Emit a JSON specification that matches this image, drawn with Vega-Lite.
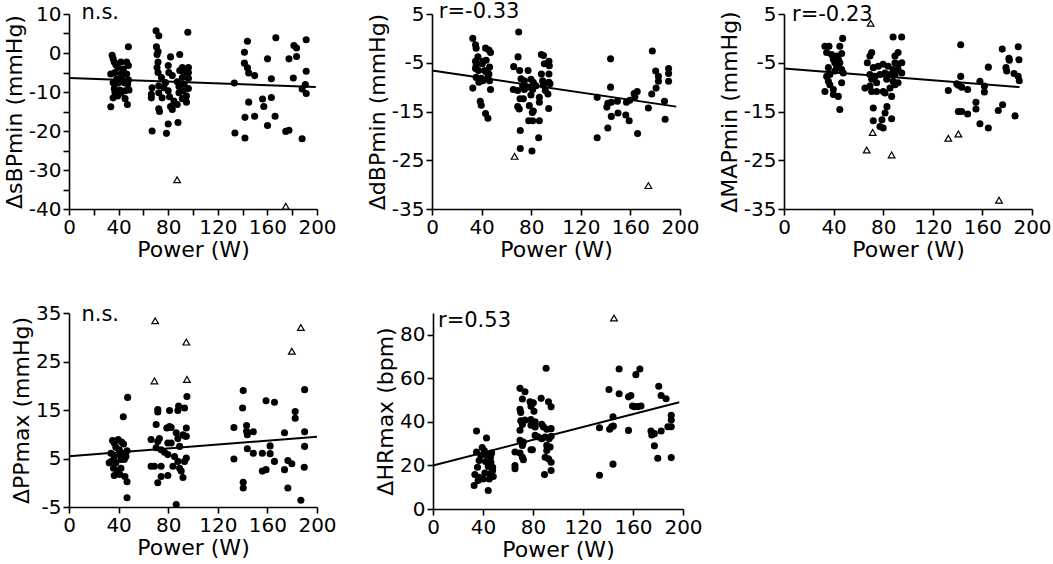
{
  "$schema": "https://vega.github.io/schema/vega-lite/v6.json",
  "padding": {"left": 3, "top": 0, "right": 0, "bottom": 0},
  "background": "white",
  "config": {
    "view": {"stroke": null},
    "font": "DejaVu Sans",
    "text": {"font": "DejaVu Sans", "fontSize": 21, "color": "black"},
    "axis": {
      "grid": false,
      "domainColor": "black",
      "domainWidth": 1.6,
      "tickColor": "black",
      "tickWidth": 1.6,
      "tickSize": 6,
      "labelFont": "DejaVu Sans",
      "labelFontSize": 20,
      "labelColor": "black",
      "labelPadding": 2,
      "labelOverlap": false,
      "labelFlush": false,
      "titleFont": "DejaVu Sans",
      "titleFontSize": 22,
      "titleFontWeight": "normal",
      "titleColor": "black",
      "titlePadding": 2
    }
  },
  "datasets": {
    "sbp": [
      {"w": 47.9, "v": 1.6, "o": 0}, {"w": 34.8, "v": -0.6, "o": 0}, {"w": 35.6, "v": -1.5, "o": 0}, {"w": 36.5, "v": -2.3, "o": 0},
      {"w": 37.8, "v": -3, "o": 0}, {"w": 41.9, "v": -2.3, "o": 0}, {"w": 46.5, "v": -2.3, "o": 0}, {"w": 47.9, "v": -3.2, "o": 0},
      {"w": 39.5, "v": -3.7, "o": 0}, {"w": 43.8, "v": -4.1, "o": 0}, {"w": 33.7, "v": -5.4, "o": 0}, {"w": 37, "v": -5, "o": 0},
      {"w": 41.9, "v": -5.4, "o": 0}, {"w": 46.5, "v": -5.4, "o": 0}, {"w": 38.4, "v": -6.7, "o": 0}, {"w": 42.4, "v": -6.5, "o": 0},
      {"w": 47.9, "v": -6.9, "o": 0}, {"w": 35.6, "v": -7.6, "o": 0}, {"w": 39.5, "v": -7.7, "o": 0}, {"w": 44.6, "v": -7.6, "o": 0},
      {"w": 47.3, "v": -8, "o": 0}, {"w": 36.5, "v": -9.1, "o": 0}, {"w": 41.1, "v": -9.5, "o": 0}, {"w": 45.2, "v": -9.7, "o": 0},
      {"w": 48.4, "v": -9.5, "o": 0}, {"w": 37, "v": -10, "o": 0}, {"w": 41.9, "v": -10.3, "o": 0}, {"w": 35.6, "v": -11.5, "o": 0},
      {"w": 45.2, "v": -11.7, "o": 0}, {"w": 33.7, "v": -13.8, "o": 0}, {"w": 47.1, "v": -13.2, "o": 0}, {"w": 39.2, "v": -11, "o": 0},
      {"w": 70.2, "v": 5.7, "o": 0}, {"w": 72.4, "v": 4.4, "o": 0}, {"w": 95.8, "v": 5.3, "o": 0}, {"w": 70.5, "v": 1.6, "o": 0},
      {"w": 71.8, "v": 0.4, "o": 0}, {"w": 71, "v": -0.4, "o": 0}, {"w": 81.9, "v": -1, "o": 0}, {"w": 89.3, "v": -0.4, "o": 0},
      {"w": 71.8, "v": -2.3, "o": 0}, {"w": 71, "v": -3.7, "o": 0}, {"w": 80, "v": -3.2, "o": 0}, {"w": 91.4, "v": -3.7, "o": 0},
      {"w": 96.3, "v": -3.7, "o": 0}, {"w": 71.8, "v": -5, "o": 0}, {"w": 80.5, "v": -5, "o": 0}, {"w": 83.3, "v": -5.8, "o": 0},
      {"w": 89.3, "v": -4.5, "o": 0}, {"w": 92.8, "v": -5, "o": 0}, {"w": 96.3, "v": -5, "o": 0}, {"w": 74.6, "v": -6.3, "o": 0},
      {"w": 77.8, "v": -7.6, "o": 0}, {"w": 87.3, "v": -7.4, "o": 0}, {"w": 91.4, "v": -6.3, "o": 0}, {"w": 96.3, "v": -6.5, "o": 0},
      {"w": 67, "v": -8.9, "o": 0}, {"w": 72.4, "v": -8.4, "o": 0}, {"w": 76.5, "v": -8.9, "o": 0}, {"w": 80, "v": -9.7, "o": 0},
      {"w": 88.7, "v": -8.6, "o": 0}, {"w": 92.8, "v": -8, "o": 0}, {"w": 92, "v": -9.7, "o": 0}, {"w": 96.3, "v": -9.1, "o": 0},
      {"w": 66.4, "v": -10.6, "o": 0}, {"w": 72.4, "v": -10.2, "o": 0}, {"w": 81.1, "v": -11.2, "o": 0}, {"w": 88.7, "v": -10.2, "o": 0},
      {"w": 94.7, "v": -11, "o": 0}, {"w": 75.1, "v": -11.5, "o": 0}, {"w": 66.4, "v": -11.5, "o": 0}, {"w": 91.4, "v": -11.7, "o": 0},
      {"w": 94.7, "v": -12.6, "o": 0}, {"w": 84.6, "v": -12.3, "o": 0}, {"w": 81.9, "v": -13.7, "o": 0}, {"w": 72.4, "v": -14.3, "o": 0},
      {"w": 73, "v": -15, "o": 0}, {"w": 83.3, "v": -14.5, "o": 0}, {"w": 87.3, "v": -13.2, "o": 0}, {"w": 67, "v": -20, "o": 0},
      {"w": 80, "v": -18.2, "o": 0}, {"w": 87.9, "v": -17.8, "o": 0}, {"w": 78.6, "v": -20.6, "o": 0},
      {"w": 133.3, "v": -7.7, "o": 0}, {"w": 133.8, "v": -20.5, "o": 0}, {"w": 143.9, "v": 3, "o": 0}, {"w": 141.5, "v": 0.2, "o": 0},
      {"w": 141.5, "v": -2.6, "o": 0}, {"w": 143.9, "v": -3.8, "o": 0}, {"w": 144.9, "v": -5.1, "o": 0}, {"w": 149.7, "v": -5.8, "o": 0},
      {"w": 144.9, "v": -12.6, "o": 0}, {"w": 141.9, "v": -16.5, "o": 0}, {"w": 141.9, "v": -21.8, "o": 0}, {"w": 149.7, "v": -16.2, "o": 0},
      {"w": 156.1, "v": -11.8, "o": 0}, {"w": 157.1, "v": -13.7, "o": 0}, {"w": 160.1, "v": -1.5, "o": 0}, {"w": 160.1, "v": -18.6, "o": 0},
      {"w": 163.2, "v": -6.6, "o": 0}, {"w": 163.2, "v": -11.4, "o": 0}, {"w": 166.8, "v": 3.9, "o": 0}, {"w": 166.2, "v": -16.2, "o": 0},
      {"w": 174.8, "v": -20.1, "o": 0}, {"w": 177.4, "v": -19.8, "o": 0}, {"w": 177.4, "v": -1.5, "o": 0}, {"w": 180.9, "v": -6.4, "o": 0},
      {"w": 181.4, "v": 1.9, "o": 0}, {"w": 183.5, "v": 1.3, "o": 0}, {"w": 183.5, "v": -0.9, "o": 0}, {"w": 188, "v": -9.2, "o": 0},
      {"w": 188, "v": -22, "o": 0}, {"w": 191.3, "v": 3.4, "o": 0}, {"w": 191.3, "v": -4.7, "o": 0}, {"w": 190.6, "v": -8.1, "o": 0},
      {"w": 191.3, "v": -10.4, "o": 0},
      {"w": 87.2, "v": -32.5, "o": 1}, {"w": 174.8, "v": -39.3, "o": 1}
    ],
    "dbp": [
      {"w": 32.9, "v": 0, "o": 0}, {"w": 35.1, "v": -1.3, "o": 0}, {"w": 35.6, "v": -2, "o": 0}, {"w": 43.2, "v": -2, "o": 0},
      {"w": 45.9, "v": -2.4, "o": 0}, {"w": 47.2, "v": -2.9, "o": 0}, {"w": 37, "v": -3.8, "o": 0}, {"w": 35.1, "v": -4.7, "o": 0},
      {"w": 41, "v": -4.7, "o": 0}, {"w": 43.7, "v": -4.5, "o": 0}, {"w": 35.6, "v": -5.6, "o": 0}, {"w": 40.5, "v": -5.2, "o": 0},
      {"w": 46.4, "v": -5.9, "o": 0}, {"w": 35.1, "v": -6.2, "o": 0}, {"w": 37.5, "v": -6.6, "o": 0}, {"w": 42.4, "v": -6.6, "o": 0},
      {"w": 43.7, "v": -6.9, "o": 0}, {"w": 45.9, "v": -7.3, "o": 0}, {"w": 35.6, "v": -8, "o": 0}, {"w": 39.7, "v": -8.2, "o": 0},
      {"w": 45.1, "v": -8, "o": 0}, {"w": 37.8, "v": -9, "o": 0}, {"w": 41, "v": -8.7, "o": 0}, {"w": 46.4, "v": -8.7, "o": 0},
      {"w": 32.9, "v": -10.2, "o": 0}, {"w": 47.2, "v": -10.5, "o": 0}, {"w": 38.9, "v": -12.9, "o": 0}, {"w": 39.7, "v": -13.7, "o": 0},
      {"w": 43.2, "v": -15.4, "o": 0}, {"w": 45.1, "v": -16.4, "o": 0},
      {"w": 69.9, "v": 1.3, "o": 0}, {"w": 69.4, "v": -3.8, "o": 0}, {"w": 65.9, "v": -5.8, "o": 0}, {"w": 70.7, "v": -6.6, "o": 0},
      {"w": 77.5, "v": -6.6, "o": 0}, {"w": 88.2, "v": -3.3, "o": 0}, {"w": 89.9, "v": -3.5, "o": 0}, {"w": 94.3, "v": -4.7, "o": 0},
      {"w": 90.6, "v": -5.2, "o": 0}, {"w": 94.6, "v": -5.6, "o": 0}, {"w": 88.2, "v": -7.3, "o": 0}, {"w": 94.3, "v": -7.3, "o": 0},
      {"w": 71.8, "v": -8.3, "o": 0}, {"w": 74.5, "v": -8.7, "o": 0}, {"w": 79.8, "v": -8.4, "o": 0}, {"w": 81.7, "v": -9, "o": 0},
      {"w": 89.2, "v": -8.7, "o": 0}, {"w": 94.3, "v": -9, "o": 0}, {"w": 73.1, "v": -9.7, "o": 0}, {"w": 77.2, "v": -10, "o": 0},
      {"w": 83.9, "v": -9.7, "o": 0}, {"w": 89.8, "v": -9.6, "o": 0}, {"w": 95.2, "v": -9.3, "o": 0}, {"w": 65.6, "v": -10.5, "o": 0},
      {"w": 69.1, "v": -10.7, "o": 0}, {"w": 74.5, "v": -10.5, "o": 0}, {"w": 81.2, "v": -10.5, "o": 0}, {"w": 91.4, "v": -10.7, "o": 0},
      {"w": 93.5, "v": -11.4, "o": 0}, {"w": 71, "v": -12.4, "o": 0}, {"w": 73.7, "v": -12.4, "o": 0}, {"w": 79.8, "v": -11.6, "o": 0},
      {"w": 86.6, "v": -12.1, "o": 0}, {"w": 69.1, "v": -14, "o": 0}, {"w": 70.4, "v": -14.5, "o": 0}, {"w": 78.5, "v": -13.8, "o": 0},
      {"w": 81.7, "v": -14.9, "o": 0}, {"w": 80.9, "v": -15.2, "o": 0}, {"w": 86.6, "v": -13.1, "o": 0}, {"w": 94.1, "v": -14.4, "o": 0},
      {"w": 78, "v": -16.9, "o": 0}, {"w": 81.2, "v": -16.9, "o": 0}, {"w": 86.6, "v": -16.9, "o": 0}, {"w": 71.2, "v": -18.9, "o": 0},
      {"w": 86, "v": -20.4, "o": 0}, {"w": 71.2, "v": -22.6, "o": 0}, {"w": 80.6, "v": -23.1, "o": 0},
      {"w": 133.2, "v": -12.1, "o": 0}, {"w": 133.2, "v": -20.4, "o": 0}, {"w": 144, "v": -4.2, "o": 0}, {"w": 144, "v": -10, "o": 0},
      {"w": 141.8, "v": -13.3, "o": 0}, {"w": 141, "v": -14.1, "o": 0}, {"w": 144.6, "v": -16, "o": 0}, {"w": 141.8, "v": -18.4, "o": 0},
      {"w": 144.6, "v": -13.1, "o": 0}, {"w": 149.5, "v": -12.9, "o": 0}, {"w": 150, "v": -15.3, "o": 0}, {"w": 156.8, "v": -13.1, "o": 0},
      {"w": 156.3, "v": -15.7, "o": 0}, {"w": 159, "v": -16.9, "o": 0}, {"w": 159.5, "v": -12.7, "o": 0}, {"w": 163, "v": -11.3, "o": 0},
      {"w": 165.5, "v": -10.9, "o": 0}, {"w": 163.6, "v": -12, "o": 0}, {"w": 165.8, "v": -19.5, "o": 0}, {"w": 174.5, "v": -14.3, "o": 0},
      {"w": 177.2, "v": -11.4, "o": 0}, {"w": 177.7, "v": -2.6, "o": 0}, {"w": 180.7, "v": -10.2, "o": 0}, {"w": 180.4, "v": -6.7, "o": 0},
      {"w": 182.6, "v": -7.8, "o": 0}, {"w": 182.6, "v": -8.8, "o": 0}, {"w": 187.5, "v": -12.9, "o": 0}, {"w": 188, "v": -16.6, "o": 0},
      {"w": 190.8, "v": -6.2, "o": 0}, {"w": 190.8, "v": -7.2, "o": 0}, {"w": 190.8, "v": -8.8, "o": 0},
      {"w": 66.6, "v": -24.2, "o": 1}, {"w": 174.5, "v": -30.2, "o": 1}
    ],
    "map": [
      {"w": 33, "v": -1.6, "o": 0}, {"w": 36.3, "v": -1.6, "o": 0}, {"w": 47.3, "v": 0, "o": 0}, {"w": 45, "v": -1.6, "o": 0},
      {"w": 34.4, "v": -2.9, "o": 0}, {"w": 38.4, "v": -3.3, "o": 0}, {"w": 42.5, "v": -3.6, "o": 0}, {"w": 46.5, "v": -3.1, "o": 0},
      {"w": 39.8, "v": -4.3, "o": 0}, {"w": 43.8, "v": -4.3, "o": 0}, {"w": 41, "v": -5, "o": 0}, {"w": 45, "v": -5, "o": 0},
      {"w": 35.8, "v": -6, "o": 0}, {"w": 42.5, "v": -6, "o": 0}, {"w": 46.5, "v": -6.4, "o": 0}, {"w": 37, "v": -7.4, "o": 0},
      {"w": 47.8, "v": -7.1, "o": 0}, {"w": 35.8, "v": -8.8, "o": 0}, {"w": 46.5, "v": -9.1, "o": 0}, {"w": 37, "v": -9.5, "o": 0},
      {"w": 33, "v": -10.9, "o": 0}, {"w": 39.8, "v": -10.5, "o": 0}, {"w": 39.8, "v": -11.5, "o": 0}, {"w": 43.8, "v": -11.9, "o": 0},
      {"w": 45, "v": -14.6, "o": 0}, {"w": 43.8, "v": -5.7, "o": 0}, {"w": 41, "v": -6.7, "o": 0}, {"w": 34.4, "v": -7.8, "o": 0},
      {"w": 70.7, "v": -2.9, "o": 0}, {"w": 69.3, "v": -3.6, "o": 0}, {"w": 88, "v": 0.3, "o": 0}, {"w": 94.9, "v": 0.3, "o": 0},
      {"w": 67.2, "v": -5, "o": 0}, {"w": 72, "v": -6, "o": 0}, {"w": 76, "v": -5.7, "o": 0}, {"w": 80, "v": -5.3, "o": 0},
      {"w": 84, "v": -5.7, "o": 0}, {"w": 89.5, "v": -3.6, "o": 0}, {"w": 89.5, "v": -5, "o": 0}, {"w": 92, "v": -5.3, "o": 0},
      {"w": 95, "v": -5, "o": 0}, {"w": 88, "v": -6.4, "o": 0}, {"w": 92, "v": -6.4, "o": 0}, {"w": 69.3, "v": -7.4, "o": 0},
      {"w": 73.4, "v": -7.8, "o": 0}, {"w": 77.4, "v": -7.4, "o": 0}, {"w": 81.5, "v": -7.1, "o": 0}, {"w": 85.5, "v": -7.4, "o": 0},
      {"w": 89.5, "v": -7.4, "o": 0}, {"w": 95, "v": -7.1, "o": 0}, {"w": 70.7, "v": -8.4, "o": 0}, {"w": 74.7, "v": -9.1, "o": 0},
      {"w": 88, "v": -8.8, "o": 0}, {"w": 92, "v": -9.1, "o": 0}, {"w": 65.3, "v": -10.2, "o": 0}, {"w": 69.3, "v": -9.8, "o": 0},
      {"w": 70.7, "v": -10.9, "o": 0}, {"w": 74.7, "v": -10.9, "o": 0}, {"w": 80, "v": -10.9, "o": 0}, {"w": 85.5, "v": -10.2, "o": 0},
      {"w": 89.5, "v": -9.5, "o": 0}, {"w": 81.5, "v": -11.2, "o": 0}, {"w": 86.8, "v": -11.9, "o": 0}, {"w": 72, "v": -14.3, "o": 0},
      {"w": 83, "v": -14, "o": 0}, {"w": 81.5, "v": -15.3, "o": 0}, {"w": 86.8, "v": -16.5, "o": 0}, {"w": 72, "v": -16.9, "o": 0},
      {"w": 79, "v": -16.7, "o": 0}, {"w": 77.4, "v": -18.1, "o": 0}, {"w": 80, "v": -18.4, "o": 0}, {"w": 92, "v": -2.9, "o": 0},
      {"w": 82.8, "v": -8.4, "o": 0},
      {"w": 132.5, "v": -10.7, "o": 0}, {"w": 142.5, "v": -1.3, "o": 0}, {"w": 142.5, "v": -7.8, "o": 0}, {"w": 139.3, "v": -9.3, "o": 0},
      {"w": 140.6, "v": -9.6, "o": 0}, {"w": 143.3, "v": -10, "o": 0}, {"w": 148.1, "v": -10.5, "o": 0}, {"w": 140.6, "v": -15, "o": 0},
      {"w": 143.3, "v": -15, "o": 0}, {"w": 148.1, "v": -15.5, "o": 0}, {"w": 154.8, "v": -13.1, "o": 0}, {"w": 154.8, "v": -14.5, "o": 0},
      {"w": 158, "v": -8.8, "o": 0}, {"w": 158, "v": -17.5, "o": 0}, {"w": 161.6, "v": -9.8, "o": 0}, {"w": 161.6, "v": -11, "o": 0},
      {"w": 164.8, "v": -5.9, "o": 0}, {"w": 164.8, "v": -18.4, "o": 0}, {"w": 172.8, "v": -14.8, "o": 0}, {"w": 176.3, "v": -13.6, "o": 0},
      {"w": 176, "v": -2.2, "o": 0}, {"w": 181.4, "v": -4.1, "o": 0}, {"w": 181.7, "v": -4.5, "o": 0}, {"w": 179, "v": -6, "o": 0},
      {"w": 179.6, "v": -6.7, "o": 0}, {"w": 188.9, "v": -1.7, "o": 0}, {"w": 189.5, "v": -4.4, "o": 0}, {"w": 185.5, "v": -7.2, "o": 0},
      {"w": 188.9, "v": -7.8, "o": 0}, {"w": 189.7, "v": -8.7, "o": 0}, {"w": 186.3, "v": -15.9, "o": 0},
      {"w": 69.9, "v": 3.1, "o": 1}, {"w": 66.7, "v": -22.9, "o": 1}, {"w": 71.5, "v": -19.3, "o": 1}, {"w": 86.8, "v": -23.9, "o": 1},
      {"w": 132.5, "v": -20.5, "o": 1}, {"w": 140.6, "v": -19.6, "o": 1}, {"w": 173.4, "v": -33.2, "o": 1}
    ],
    "pp": [
      {"w": 47.3, "v": 17.6, "o": 0}, {"w": 43.8, "v": 13.6, "o": 0}, {"w": 35.1, "v": 8.7, "o": 0}, {"w": 36.5, "v": 8.2, "o": 0},
      {"w": 39.7, "v": 8.9, "o": 0}, {"w": 42.4, "v": 8.4, "o": 0}, {"w": 44, "v": 8, "o": 0}, {"w": 37.8, "v": 7.3, "o": 0},
      {"w": 40.5, "v": 6.8, "o": 0}, {"w": 46.8, "v": 6.6, "o": 0}, {"w": 44, "v": 6.1, "o": 0}, {"w": 33.8, "v": 6.1, "o": 0},
      {"w": 36.5, "v": 5.4, "o": 0}, {"w": 41.4, "v": 5.8, "o": 0}, {"w": 45.9, "v": 5.4, "o": 0}, {"w": 34.3, "v": 4.4, "o": 0},
      {"w": 37.8, "v": 4.1, "o": 0}, {"w": 41.9, "v": 4.8, "o": 0}, {"w": 44.6, "v": 4.8, "o": 0}, {"w": 32.4, "v": 4.1, "o": 0},
      {"w": 35.9, "v": 3, "o": 0}, {"w": 39.2, "v": 2.5, "o": 0}, {"w": 41.9, "v": 3, "o": 0}, {"w": 36.5, "v": 1.5, "o": 0},
      {"w": 41, "v": 1.7, "o": 0}, {"w": 45.1, "v": 1.3, "o": 0}, {"w": 46.8, "v": 0.2, "o": 0}, {"w": 46.8, "v": -3.1, "o": 0},
      {"w": 95.1, "v": 17.8, "o": 0}, {"w": 71.6, "v": 15.1, "o": 0}, {"w": 71.6, "v": 14.6, "o": 0}, {"w": 81.1, "v": 14.9, "o": 0},
      {"w": 88.4, "v": 15.8, "o": 0}, {"w": 87.8, "v": 14.9, "o": 0}, {"w": 93.2, "v": 15.4, "o": 0}, {"w": 70.3, "v": 12, "o": 0},
      {"w": 78.9, "v": 11.3, "o": 0}, {"w": 82.4, "v": 11.4, "o": 0}, {"w": 81.1, "v": 11.6, "o": 0}, {"w": 94.6, "v": 11.3, "o": 0},
      {"w": 86.5, "v": 10.3, "o": 0}, {"w": 91.9, "v": 9.9, "o": 0}, {"w": 93.8, "v": 9.6, "o": 0}, {"w": 66.2, "v": 8.9, "o": 0},
      {"w": 71.6, "v": 8.5, "o": 0}, {"w": 70.3, "v": 7.2, "o": 0}, {"w": 74.3, "v": 6.8, "o": 0}, {"w": 79.7, "v": 8.2, "o": 0},
      {"w": 82.4, "v": 8.2, "o": 0}, {"w": 89.2, "v": 7.5, "o": 0}, {"w": 77, "v": 6.3, "o": 0}, {"w": 79.7, "v": 5.8, "o": 0},
      {"w": 85.1, "v": 5.4, "o": 0}, {"w": 94.6, "v": 5.1, "o": 0}, {"w": 93.2, "v": 4.4, "o": 0}, {"w": 66.2, "v": 3.4, "o": 0},
      {"w": 68.9, "v": 3.4, "o": 0}, {"w": 74.3, "v": 3.4, "o": 0}, {"w": 83.8, "v": 3.4, "o": 0}, {"w": 89.2, "v": 3, "o": 0},
      {"w": 90.5, "v": 2.4, "o": 0}, {"w": 91.9, "v": 1.1, "o": 0}, {"w": 74.3, "v": 1.3, "o": 0}, {"w": 79.7, "v": 1.5, "o": 0},
      {"w": 71.6, "v": 0, "o": 0}, {"w": 86.5, "v": -4.5, "o": 0}, {"w": 72.9, "v": 9.1, "o": 0}, {"w": 87.8, "v": 9.1, "o": 0},
      {"w": 94.6, "v": 9.6, "o": 0}, {"w": 87.8, "v": 4.4, "o": 0},
      {"w": 133, "v": 11.4, "o": 0}, {"w": 133, "v": 4.9, "o": 0}, {"w": 140.5, "v": 19, "o": 0}, {"w": 140, "v": 15.4, "o": 0},
      {"w": 143.2, "v": 11.8, "o": 0}, {"w": 143.2, "v": 10.6, "o": 0}, {"w": 143.8, "v": 9.9, "o": 0}, {"w": 148.6, "v": 10.5, "o": 0},
      {"w": 143.8, "v": 7, "o": 0}, {"w": 148.6, "v": 6.1, "o": 0}, {"w": 140.5, "v": 0.1, "o": 0}, {"w": 140.5, "v": -1.1, "o": 0},
      {"w": 155.9, "v": 6.1, "o": 0}, {"w": 155.9, "v": 2.4, "o": 0}, {"w": 158.9, "v": 2.7, "o": 0}, {"w": 158.9, "v": 16.9, "o": 0},
      {"w": 162.2, "v": 7.6, "o": 0}, {"w": 162.2, "v": 6, "o": 0}, {"w": 165.7, "v": 16.6, "o": 0}, {"w": 165.7, "v": 4.4, "o": 0},
      {"w": 173.8, "v": 10.3, "o": 0}, {"w": 173.8, "v": 2.7, "o": 0}, {"w": 176.5, "v": 4.6, "o": 0}, {"w": 176.5, "v": -1.1, "o": 0},
      {"w": 179.7, "v": 3.9, "o": 0}, {"w": 182.4, "v": 14.7, "o": 0}, {"w": 182.4, "v": 13.3, "o": 0}, {"w": 187, "v": -3.6, "o": 0},
      {"w": 190, "v": 19.2, "o": 0}, {"w": 190, "v": 10.5, "o": 0}, {"w": 190, "v": 7.5, "o": 0}, {"w": 189.7, "v": 3.2, "o": 0},
      {"w": 69.5, "v": 33.4, "o": 1}, {"w": 68.9, "v": 21, "o": 1}, {"w": 94.6, "v": 29, "o": 1}, {"w": 95.1, "v": 21.3, "o": 1},
      {"w": 179.7, "v": 27.1, "o": 1}, {"w": 187, "v": 32, "o": 1}
    ],
    "hr": [
      {"w": 34.8, "v": 35.8, "o": 0}, {"w": 42.8, "v": 32.6, "o": 0}, {"w": 34.8, "v": 26.2, "o": 0}, {"w": 39.4, "v": 28.2, "o": 0},
      {"w": 41, "v": 26.9, "o": 0}, {"w": 46.9, "v": 25.7, "o": 0}, {"w": 46, "v": 23.8, "o": 0}, {"w": 36.9, "v": 22.3, "o": 0},
      {"w": 42, "v": 21.8, "o": 0}, {"w": 46.3, "v": 21.5, "o": 0}, {"w": 35.6, "v": 19.2, "o": 0}, {"w": 44.2, "v": 19.5, "o": 0},
      {"w": 47.7, "v": 19.2, "o": 0}, {"w": 33.5, "v": 15.8, "o": 0}, {"w": 36.9, "v": 14.6, "o": 0}, {"w": 41.5, "v": 16.5, "o": 0},
      {"w": 45.5, "v": 16.2, "o": 0}, {"w": 48.2, "v": 14.9, "o": 0}, {"w": 36.1, "v": 13.1, "o": 0}, {"w": 40.2, "v": 13.8, "o": 0},
      {"w": 45, "v": 13.8, "o": 0}, {"w": 32.9, "v": 10.8, "o": 0}, {"w": 44.2, "v": 8.5, "o": 0}, {"w": 38.3, "v": 24.6, "o": 0},
      {"w": 42.8, "v": 24.9, "o": 0}, {"w": 47.7, "v": 17.7, "o": 0},
      {"w": 90.5, "v": 64.6, "o": 0}, {"w": 69.6, "v": 55.4, "o": 0}, {"w": 73.6, "v": 53.8, "o": 0}, {"w": 71.5, "v": 50.5, "o": 0},
      {"w": 69.6, "v": 45.8, "o": 0}, {"w": 70.2, "v": 44.3, "o": 0}, {"w": 77.6, "v": 49.2, "o": 0}, {"w": 80.3, "v": 48.8, "o": 0},
      {"w": 78.4, "v": 47.2, "o": 0}, {"w": 80.8, "v": 44.9, "o": 0}, {"w": 86.5, "v": 50.8, "o": 0}, {"w": 92.4, "v": 49.2, "o": 0},
      {"w": 94.5, "v": 46.9, "o": 0}, {"w": 70.2, "v": 40.5, "o": 0}, {"w": 71.5, "v": 38.8, "o": 0}, {"w": 73.6, "v": 40.8, "o": 0},
      {"w": 78.3, "v": 41.1, "o": 0}, {"w": 78.4, "v": 38.5, "o": 0}, {"w": 81.7, "v": 40, "o": 0}, {"w": 81.7, "v": 37.7, "o": 0},
      {"w": 87, "v": 38.9, "o": 0}, {"w": 88.4, "v": 37.7, "o": 0}, {"w": 91, "v": 36.6, "o": 0}, {"w": 94.5, "v": 36.9, "o": 0},
      {"w": 69.6, "v": 36.2, "o": 0}, {"w": 69.6, "v": 31.5, "o": 0}, {"w": 71.5, "v": 29.2, "o": 0}, {"w": 72.3, "v": 30.8, "o": 0},
      {"w": 81.7, "v": 33.8, "o": 0}, {"w": 84.3, "v": 33.1, "o": 0}, {"w": 87, "v": 32.3, "o": 0}, {"w": 89.7, "v": 33.1, "o": 0},
      {"w": 92.9, "v": 32.3, "o": 0}, {"w": 94.5, "v": 33.4, "o": 0}, {"w": 65.6, "v": 26.2, "o": 0}, {"w": 69.6, "v": 25.7, "o": 0},
      {"w": 71.5, "v": 23.8, "o": 0}, {"w": 72.3, "v": 22.6, "o": 0}, {"w": 65.6, "v": 20, "o": 0}, {"w": 65.6, "v": 18.5, "o": 0},
      {"w": 78.4, "v": 27.2, "o": 0}, {"w": 79.5, "v": 27.2, "o": 0}, {"w": 91, "v": 29.2, "o": 0}, {"w": 93.7, "v": 28.5, "o": 0},
      {"w": 89.7, "v": 23.8, "o": 0}, {"w": 92.4, "v": 23.1, "o": 0}, {"w": 94.5, "v": 21.5, "o": 0}, {"w": 89.2, "v": 15.8, "o": 0},
      {"w": 94.5, "v": 17.7, "o": 0}, {"w": 91, "v": 26.9, "o": 0},
      {"w": 133.2, "v": 15.5, "o": 0}, {"w": 133.2, "v": 37.3, "o": 0}, {"w": 140.8, "v": 54.9, "o": 0}, {"w": 141.3, "v": 36.6, "o": 0},
      {"w": 142.9, "v": 37.7, "o": 0}, {"w": 144.3, "v": 38.1, "o": 0}, {"w": 144, "v": 42.4, "o": 0}, {"w": 144, "v": 20.6, "o": 0},
      {"w": 148.9, "v": 64.3, "o": 0}, {"w": 148.9, "v": 52.9, "o": 0}, {"w": 156.4, "v": 51.5, "o": 0}, {"w": 158.3, "v": 52.1, "o": 0},
      {"w": 156.4, "v": 36.1, "o": 0}, {"w": 159.6, "v": 47.3, "o": 0}, {"w": 161, "v": 47, "o": 0}, {"w": 162.3, "v": 61.7, "o": 0},
      {"w": 163.7, "v": 47, "o": 0}, {"w": 165.5, "v": 64.3, "o": 0}, {"w": 166.4, "v": 47.3, "o": 0}, {"w": 174.4, "v": 35.8, "o": 0},
      {"w": 175, "v": 34, "o": 0}, {"w": 177.1, "v": 34.6, "o": 0}, {"w": 177.1, "v": 29, "o": 0}, {"w": 179.8, "v": 23.3, "o": 0},
      {"w": 180.6, "v": 56.4, "o": 0}, {"w": 182.5, "v": 52.1, "o": 0}, {"w": 182.5, "v": 35.8, "o": 0}, {"w": 186.5, "v": 50.6, "o": 0},
      {"w": 187.9, "v": 37.8, "o": 0}, {"w": 190.6, "v": 43, "o": 0}, {"w": 190.6, "v": 40.9, "o": 0}, {"w": 190.6, "v": 37.8, "o": 0},
      {"w": 190.6, "v": 23.6, "o": 0},
      {"w": 144.8, "v": 87.7, "o": 1}
    ],
    "fits": [
      {"panel": "sbp", "w": 0, "v": -6.4}, {"panel": "sbp", "w": 199, "v": -8.7},
      {"panel": "dbp", "w": 0, "v": -6.6}, {"panel": "dbp", "w": 197, "v": -14},
      {"panel": "map", "w": 0, "v": -6.2}, {"panel": "map", "w": 190, "v": -10},
      {"panel": "pp", "w": 0, "v": 5.45}, {"panel": "pp", "w": 200, "v": 9.5},
      {"panel": "hr", "w": 0, "v": 20}, {"panel": "hr", "w": 197, "v": 49}
    ],
    "notes": [
      {"panel": "sbp", "label": "n.s."},
      {"panel": "dbp", "label": "r=-0.33"},
      {"panel": "map", "label": "r=-0.23"},
      {"panel": "pp", "label": "n.s."},
      {"panel": "hr", "label": "r=0.53"}
    ]
  },
  "vconcat": [
    {
      "bounds": "flush",
      "spacing": 115,
      "hconcat": [
        {
          "width": 248, "height": 195,
          "layer": [
            {"data": {"name": "sbp"}, "transform": [{"filter": "datum.o == 0"}], "mark": {"type": "circle", "size": 50, "color": "black", "opacity": 1},
              "encoding": {
                "x": {"field": "w", "type": "quantitative", "scale": {"domain": [0, 200], "nice": false},
                  "axis": {"title": "Power (W)", "labelOverlap": false, "values": [0, 20, 40, 60, 80, 100, 120, 140, 160, 180, 200], "labelExpr": "datum.value % 40 === 0 ? '' + datum.value : ''"}},
                "y": {"field": "v", "type": "quantitative", "scale": {"domain": [-40, 10], "nice": false, "zero": false},
                  "axis": {"title": "ΔsBPmin (mmHg)", "labelOverlap": false, "values": [-40, -35, -30, -25, -20, -15, -10, -5, 0, 5, 10], "labelExpr": "datum.value % 10 === 0 ? '' + datum.value : ''"}}
              }},
            {"data": {"name": "sbp"}, "transform": [{"filter": "datum.o == 1"}], "mark": {"type": "point", "shape": "triangle-up", "size": 45, "filled": false, "fill": "white", "stroke": "black", "strokeWidth": 1.2, "opacity": 1},
              "encoding": {
                "x": {"field": "w", "type": "quantitative", "scale": {"domain": [0, 200], "nice": false},
                  "axis": {"title": "Power (W)", "labelOverlap": false, "values": [0, 20, 40, 60, 80, 100, 120, 140, 160, 180, 200], "labelExpr": "datum.value % 40 === 0 ? '' + datum.value : ''"}},
                "y": {"field": "v", "type": "quantitative", "scale": {"domain": [-40, 10], "nice": false, "zero": false},
                  "axis": {"title": "ΔsBPmin (mmHg)", "labelOverlap": false, "values": [-40, -35, -30, -25, -20, -15, -10, -5, 0, 5, 10], "labelExpr": "datum.value % 10 === 0 ? '' + datum.value : ''"}}
              }},
            {"data": {"name": "fits"}, "transform": [{"filter": "datum.panel == 'sbp'"}], "mark": {"type": "line", "color": "black", "strokeWidth": 2},
              "encoding": {
                "x": {"field": "w", "type": "quantitative", "scale": {"domain": [0, 200], "nice": false},
                  "axis": {"title": "Power (W)", "labelOverlap": false, "values": [0, 20, 40, 60, 80, 100, 120, 140, 160, 180, 200], "labelExpr": "datum.value % 40 === 0 ? '' + datum.value : ''"}},
                "y": {"field": "v", "type": "quantitative", "scale": {"domain": [-40, 10], "nice": false, "zero": false},
                  "axis": {"title": "ΔsBPmin (mmHg)", "labelOverlap": false, "values": [-40, -35, -30, -25, -20, -15, -10, -5, 0, 5, 10], "labelExpr": "datum.value % 10 === 0 ? '' + datum.value : ''"}}
              }},
            {"data": {"name": "notes"}, "transform": [{"filter": "datum.panel == 'sbp'"}], "mark": {"type": "text", "align": "left", "baseline": "alphabetic"},
              "encoding": {
                "x": {"datum": 10, "type": "quantitative", "scale": {"domain": [0, 200], "nice": false},
                  "axis": {"title": "Power (W)", "labelOverlap": false, "values": [0, 20, 40, 60, 80, 100, 120, 140, 160, 180, 200], "labelExpr": "datum.value % 40 === 0 ? '' + datum.value : ''"}},
                "y": {"datum": 8.7, "type": "quantitative", "scale": {"domain": [-40, 10], "nice": false, "zero": false},
                  "axis": {"title": "ΔsBPmin (mmHg)", "labelOverlap": false, "values": [-40, -35, -30, -25, -20, -15, -10, -5, 0, 5, 10], "labelExpr": "datum.value % 10 === 0 ? '' + datum.value : ''"}},
                "text": {"field": "label", "type": "nominal"}}}
          ]
        },
        {
          "bounds": "flush",
          "spacing": 104,
          "hconcat": [
            {
              "width": 248, "height": 195,
              "layer": [
                {"data": {"name": "dbp"}, "transform": [{"filter": "datum.o == 0"}], "mark": {"type": "circle", "size": 50, "color": "black", "opacity": 1},
                  "encoding": {
                    "x": {"field": "w", "type": "quantitative", "scale": {"domain": [0, 200], "nice": false},
                      "axis": {"title": "Power (W)", "labelOverlap": false, "values": [0, 20, 40, 60, 80, 100, 120, 140, 160, 180, 200], "labelExpr": "datum.value % 40 === 0 ? '' + datum.value : ''"}},
                    "y": {"field": "v", "type": "quantitative", "scale": {"domain": [-35, 5], "nice": false, "zero": false},
                      "axis": {"title": "ΔdBPmin (mmHg)", "labelOverlap": false, "values": [-35, -30, -25, -20, -15, -10, -5, 0, 5], "labelExpr": "(datum.value + 5) % 10 === 0 ? '' + datum.value : ''"}}
                  }},
                {"data": {"name": "dbp"}, "transform": [{"filter": "datum.o == 1"}], "mark": {"type": "point", "shape": "triangle-up", "size": 45, "filled": false, "fill": "white", "stroke": "black", "strokeWidth": 1.2, "opacity": 1},
                  "encoding": {"x": {"field": "w", "type": "quantitative"}, "y": {"field": "v", "type": "quantitative"}}},
                {"data": {"name": "fits"}, "transform": [{"filter": "datum.panel == 'dbp'"}], "mark": {"type": "line", "color": "black", "strokeWidth": 2},
                  "encoding": {"x": {"field": "w", "type": "quantitative"}, "y": {"field": "v", "type": "quantitative"}}},
                {"data": {"name": "notes"}, "transform": [{"filter": "datum.panel == 'dbp'"}], "mark": {"type": "text", "align": "left", "baseline": "alphabetic"},
                  "encoding": {"x": {"datum": 5.5, "type": "quantitative"}, "y": {"datum": 4.2, "type": "quantitative"}, "text": {"field": "label", "type": "nominal"}}}
              ]
            },
            {
              "width": 248, "height": 195,
              "layer": [
                {"data": {"name": "map"}, "transform": [{"filter": "datum.o == 0"}], "mark": {"type": "circle", "size": 50, "color": "black", "opacity": 1},
                  "encoding": {
                    "x": {"field": "w", "type": "quantitative", "scale": {"domain": [0, 200], "nice": false},
                      "axis": {"title": "Power (W)", "labelOverlap": false, "values": [0, 20, 40, 60, 80, 100, 120, 140, 160, 180, 200], "labelExpr": "datum.value % 40 === 0 ? '' + datum.value : ''"}},
                    "y": {"field": "v", "type": "quantitative", "scale": {"domain": [-35, 5], "nice": false, "zero": false},
                      "axis": {"title": "ΔMAPmin (mmHg)", "labelOverlap": false, "values": [-35, -30, -25, -20, -15, -10, -5, 0, 5], "labelExpr": "(datum.value + 5) % 10 === 0 ? '' + datum.value : ''"}}
                  }},
                {"data": {"name": "map"}, "transform": [{"filter": "datum.o == 1"}], "mark": {"type": "point", "shape": "triangle-up", "size": 45, "filled": false, "fill": "white", "stroke": "black", "strokeWidth": 1.2, "opacity": 1},
                  "encoding": {"x": {"field": "w", "type": "quantitative"}, "y": {"field": "v", "type": "quantitative"}}},
                {"data": {"name": "fits"}, "transform": [{"filter": "datum.panel == 'map'"}], "mark": {"type": "line", "color": "black", "strokeWidth": 2},
                  "encoding": {"x": {"field": "w", "type": "quantitative"}, "y": {"field": "v", "type": "quantitative"}}},
                {"data": {"name": "notes"}, "transform": [{"filter": "datum.panel == 'map'"}], "mark": {"type": "text", "align": "left", "baseline": "alphabetic"},
                  "encoding": {"x": {"datum": 6.5, "type": "quantitative"}, "y": {"datum": 3.6, "type": "quantitative"}, "text": {"field": "label", "type": "nominal"}}}
              ]
            }
          ]
        }
      ]
    },
    {
      "bounds": "flush",
      "spacing": 116,
      "hconcat": [
        {
          "width": 248, "height": 194,
          "layer": [
            {"data": {"name": "pp"}, "transform": [{"filter": "datum.o == 0"}], "mark": {"type": "circle", "size": 50, "color": "black", "opacity": 1},
              "encoding": {
                "x": {"field": "w", "type": "quantitative", "scale": {"domain": [0, 200], "nice": false},
                  "axis": {"title": "Power (W)", "labelOverlap": false, "values": [0, 20, 40, 60, 80, 100, 120, 140, 160, 180, 200], "labelExpr": "datum.value % 40 === 0 ? '' + datum.value : ''"}},
                "y": {"field": "v", "type": "quantitative", "scale": {"domain": [-5, 35], "nice": false, "zero": false},
                  "axis": {"title": "ΔPPmax (mmHg)", "labelOverlap": false, "values": [-5, 0, 5, 10, 15, 20, 25, 30, 35], "labelExpr": "(datum.value + 5) % 10 === 0 ? '' + datum.value : ''"}}
              }},
            {"data": {"name": "pp"}, "transform": [{"filter": "datum.o == 1"}], "mark": {"type": "point", "shape": "triangle-up", "size": 45, "filled": false, "fill": "white", "stroke": "black", "strokeWidth": 1.2, "opacity": 1},
              "encoding": {"x": {"field": "w", "type": "quantitative"}, "y": {"field": "v", "type": "quantitative"}}},
            {"data": {"name": "fits"}, "transform": [{"filter": "datum.panel == 'pp'"}], "mark": {"type": "line", "color": "black", "strokeWidth": 2},
              "encoding": {"x": {"field": "w", "type": "quantitative"}, "y": {"field": "v", "type": "quantitative"}}},
            {"data": {"name": "notes"}, "transform": [{"filter": "datum.panel == 'pp'"}], "mark": {"type": "text", "align": "left", "baseline": "alphabetic"},
              "encoding": {"x": {"datum": 10, "type": "quantitative"}, "y": {"datum": 33.3, "type": "quantitative"}, "text": {"field": "label", "type": "nominal"}}}
          ]
        },
        {
          "width": 250, "height": 196,
          "layer": [
            {"data": {"name": "hr"}, "transform": [{"filter": "datum.o == 0"}], "mark": {"type": "circle", "size": 50, "color": "black", "opacity": 1},
              "encoding": {
                "x": {"field": "w", "type": "quantitative", "scale": {"domain": [0, 200], "nice": false},
                  "axis": {"title": "Power (W)", "labelOverlap": false, "values": [0, 20, 40, 60, 80, 100, 120, 140, 160, 180, 200], "labelExpr": "datum.value % 40 === 0 ? '' + datum.value : ''"}},
                "y": {"field": "v", "type": "quantitative", "scale": {"domain": [0, 90], "nice": false, "zero": false},
                  "axis": {"title": "ΔHRmax (bpm)", "labelOverlap": false, "values": [0, 10, 20, 30, 40, 50, 60, 70, 80, 90], "labelExpr": "datum.value % 20 === 0 && datum.value < 90 ? '' + datum.value : ''"}}
              }},
            {"data": {"name": "hr"}, "transform": [{"filter": "datum.o == 1"}], "mark": {"type": "point", "shape": "triangle-up", "size": 45, "filled": false, "fill": "white", "stroke": "black", "strokeWidth": 1.2, "opacity": 1},
              "encoding": {"x": {"field": "w", "type": "quantitative"}, "y": {"field": "v", "type": "quantitative"}}},
            {"data": {"name": "fits"}, "transform": [{"filter": "datum.panel == 'hr'"}], "mark": {"type": "line", "color": "black", "strokeWidth": 2},
              "encoding": {"x": {"field": "w", "type": "quantitative"}, "y": {"field": "v", "type": "quantitative"}}},
            {"data": {"name": "notes"}, "transform": [{"filter": "datum.panel == 'hr'"}], "mark": {"type": "text", "align": "left", "baseline": "alphabetic"},
              "encoding": {"x": {"datum": 4, "type": "quantitative"}, "y": {"datum": 83.5, "type": "quantitative"}, "text": {"field": "label", "type": "nominal"}}}
          ]
        }
      ]
    }
  ],
  "spacing": 43
}
